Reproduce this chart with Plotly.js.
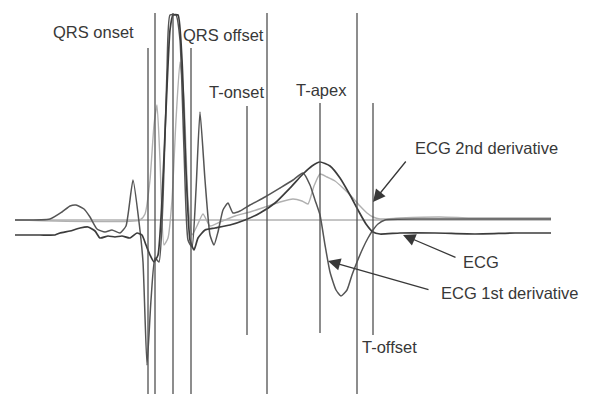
<!DOCTYPE html>
<html>
<head>
<meta charset="utf-8">
<script src="https://cdn.plot.ly/plotly-3.0.1.min.js"></script>
<style>
  html, body { margin: 0; padding: 0; background: #fff; }
  #chart { width: 589px; height: 394px; }
</style>
</head>
<body>
<div id="chart"></div>
<script>
// Time in samples (ms), amplitude in arbitrary units (zero = reference line)
const tEcg = [0, 25, 40, 45, 55, 65, 73, 80, 85, 93, 100, 107, 115, 122, 127, 131, 135, 139, 143, 147, 151, 155, 158, 163, 167, 171, 175, 179, 183, 190, 200, 215, 230, 245, 260, 275, 288, 297, 305, 315, 325, 335, 343, 351, 358, 365, 385, 420, 460, 500, 536];
const ecg  = [-15, -15, -15, -13, -11, -8, -7, -11, -18, -16, -17, -16, -18, -13, -15, -25, -35, -42, -35, 20, 110, 190, 205, 205, 160, 50, -20, -30, -18, -10, -8, -5, 0, 7, 17, 32, 46, 54, 58, 54, 42, 25, 10, -4, -12, -14, -13, -13, -14, -13, -13];

const tD1 = [0, 35, 47, 55, 61, 69, 75, 82, 90, 97, 105, 111, 118, 124, 128, 132, 136, 140, 144, 148, 152, 155, 161, 165, 169, 173, 177, 181, 185, 190, 195, 199, 203, 208, 213, 218, 225, 235, 250, 265, 278, 288, 295, 300, 305, 310, 315, 321, 326, 332, 337, 342, 348, 353, 358, 363, 370, 405, 450, 500, 536];
const d1  = [0, 1, 8, 14, 15, 11, 3, -9, -12, -10, -13, -6, 40, -2, -42, -145, -80, -38, -42, 20, 150, 205, 205, 180, 70, -20, -27, 30, 108, 40, -15, -25, -12, 10, 17, 7, 9, 15, 23, 32, 40, 47, 35, 20, 5, -25, -52, -70, -76, -70, -55, -42, -28, -18, -10, -4, 0, 1, 1, 1, 1];

const tD2 = [0, 125, 130, 135, 139, 142, 145, 149, 153, 157, 161, 165, 169, 173, 177, 182, 188, 195, 205, 220, 235, 250, 265, 278, 287, 293, 299, 305, 312, 320, 328, 337, 345, 352, 358, 365, 385, 425, 455, 485, 536];
const d2  = [0, 0, 6, 40, 95, 115, 60, -25, -18, 20, 100, 158, 120, 20, -15, -6, 6, -6, -2, 4, 8, 13, 18, 21, 19, 16, 34, 46, 43, 39, 32, 23, 14, 7, 3, 1, 2, 3, 2, 2, 2];

// Fiducial marker lines
const markerT      = [133, 140, 158, 176, 232, 252, 305, 342, 358];
const markerTop    = [172, 207, 207, 172, 114, 207, 117, 207, 117];
const markerBottom = [-174, -174, -174, -174, -115, -174, -113, -174, -115];

// Event labels
const labelText = ["QRS onset", "QRS offset", "T-onset", "T-apex", "T-offset"];
const labelT    = [78, 208, 221, 306, 374];
const labelA    = [188, 185, 128, 130, -127];

// Trace labels with arrows: tail (label side) and head (curve side)
const arrowText  = ["ECG 2nd derivative", "ECG", "ECG 1st derivative"];
const arrowTextT = [471, 466, 495];
const arrowTextA = [72, -42, -73];
const arrowTailT = [392, 442, 415];
const arrowTailA = [60, -38, -70];
const arrowHeadT = [358, 388, 313];
const arrowHeadA = [18, -15, -41];

const traces = [
  { x: [0, 536], y: [0, 0], mode: "lines", line: { color: "#8a8a8a", width: 1 }, hoverinfo: "skip" },
  { x: tD2, y: d2, mode: "lines", line: { color: "#b0b0b0", width: 1.4, shape: "spline", smoothing: 0.5 }, name: "ECG 2nd derivative" },
  { x: tD1, y: d1, mode: "lines", line: { color: "#555", width: 1.5, shape: "spline", smoothing: 0.5 }, name: "ECG 1st derivative" },
  { x: tEcg, y: ecg, mode: "lines", line: { color: "#3c3c3c", width: 1.7, shape: "spline", smoothing: 0.5 }, name: "ECG" }
];

const shapes = markerT.map((t, i) => ({
  type: "line", xref: "x", yref: "y",
  x0: t, x1: t, y0: markerBottom[i], y1: markerTop[i],
  line: { color: "#505050", width: 1.3 }
}));

const font = { family: "Liberation Sans, Arial, sans-serif", size: 16.5, color: "#383838" };

const annotations = [];
labelText.forEach((s, i) => annotations.push({
  x: labelT[i], y: labelA[i], xref: "x", yref: "y", text: s, showarrow: false, font: font
}));
arrowText.forEach((s, i) => {
  annotations.push({ x: arrowTextT[i], y: arrowTextA[i], xref: "x", yref: "y", text: s, showarrow: false, font: font });
  annotations.push({
    x: arrowHeadT[i], y: arrowHeadA[i], xref: "x", yref: "y",
    ax: arrowTailT[i], ay: arrowTailA[i], axref: "x", ayref: "y",
    text: "", showarrow: true, arrowhead: 2, arrowsize: 1.9, arrowwidth: 1.3, arrowcolor: "#383838"
  });
});

const layout = {
  width: 589, height: 394,
  margin: { l: 0, r: 0, t: 13, b: 0 },
  paper_bgcolor: "#fff", plot_bgcolor: "#fff",
  showlegend: false,
  xaxis: { range: [-15, 574], visible: false, fixedrange: true },
  yaxis: { range: [-174, 207], visible: false, fixedrange: true },
  shapes: shapes,
  annotations: annotations
};

Plotly.newPlot("chart", traces, layout, { staticPlot: true });
</script>
</body>
</html>
